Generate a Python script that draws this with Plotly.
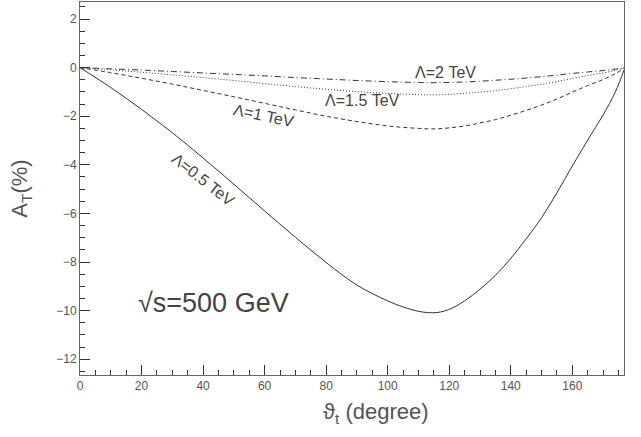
import plotly.graph_objects as go

# Scattering angle (degree)
theta = [0, 10, 20, 30, 40, 50, 60, 70, 80, 90, 100, 105, 110, 113, 116, 120, 125,
         130, 135, 140, 145, 150, 155, 160, 165, 170, 174, 176.8]

# A_T (%) for each Lambda
a_05 = [0, -0.82, -1.72, -2.68, -3.72, -4.8, -5.9, -6.98, -8.02, -8.95, -9.6, -9.85, -10.03,
        -10.08, -10.08, -9.95, -9.6, -9.12, -8.55, -7.85, -7.05, -6.18, -5.15, -4.05,
        -2.98, -1.95, -1.0, -0.1]
a_10 = [0, -0.21, -0.44, -0.68, -0.94, -1.2, -1.47, -1.74, -2.0, -2.22, -2.4, -2.46, -2.5,
        -2.52, -2.52, -2.48, -2.4, -2.28, -2.14, -1.96, -1.76, -1.54, -1.29, -1.01,
        -0.74, -0.49, -0.25, -0.03]
a_15 = [0, -0.09, -0.19, -0.3, -0.41, -0.53, -0.66, -0.78, -0.89, -0.99, -1.06, -1.09,
        -1.11, -1.12, -1.12, -1.1, -1.06, -1.01, -0.95, -0.87, -0.78, -0.69, -0.57,
        -0.45, -0.33, -0.22, -0.11, -0.01]
a_20 = [0, -0.05, -0.1, -0.16, -0.22, -0.28, -0.34, -0.41, -0.47, -0.53, -0.58, -0.6,
        -0.61, -0.62, -0.62, -0.61, -0.59, -0.56, -0.52, -0.48, -0.43, -0.37, -0.31,
        -0.24, -0.18, -0.12, -0.06, -0.01]

x_ticks = [0, 20, 40, 60, 80, 100, 120, 140, 160]
y_ticks = [2, 0, -2, -4, -6, -8, -10, -12]

LINE = "#333333"
TXT = "#555555"
FONT = "Liberation Sans"

fig = go.Figure()
styles = [
    (a_05, "solid"),
    (a_10, "4px,3px"),
    (a_15, "1px,2px"),
    (a_20, "6px,3px,1px,3px"),
]
for ys, dash in styles:
    fig.add_trace(go.Scatter(x=theta, y=ys, mode="lines", line=dict(color=LINE, width=1, dash=dash),
                             line_shape="spline", showlegend=False, hoverinfo="skip"))

labels = [
    (118.7, -0.22, "Λ=2 TeV", 0),
    (91.7, -1.36, "Λ=1.5 TeV", 0),
    (59.5, -1.98, "Λ=1 TeV", 12),
    (40, -4.6, "Λ=0.5 TeV", 38),
]
for x, y, t, ang in labels:
    fig.add_annotation(x=x, y=y, text=t, showarrow=False, textangle=ang,
                       font=dict(family=FONT, size=16, color="#444444"))

fig.add_annotation(x=43.5, y=-9.7, text="√s=500 GeV", showarrow=False,
                   font=dict(family=FONT, size=27, color="#444444"))

fig.add_annotation(xref="paper", yref="paper", x=0.544, y=-0.06, yanchor="top",
                   text="ϑ<sub>t</sub> (degree)", showarrow=False,
                   font=dict(family=FONT, size=22, color="#555555"))

axis_common = dict(showline=True, linecolor="#666666", linewidth=1, mirror=True,
                   ticks="inside", ticklen=10, tickcolor="#333333", tickwidth=1,
                   showgrid=False, zeroline=False,
                   tickfont=dict(family=FONT, size=12, color=TXT))

fig.update_xaxes(range=[0, 176.8], tickvals=x_ticks, ticktext=[str(v) for v in x_ticks],
                 minor=dict(ticks="inside", ticklen=5, dtick=5, tick0=0, tickcolor="#333333"),
                 **axis_common)
fig.update_yaxes(range=[-12.65, 2.7], tickvals=y_ticks,
                 ticktext=[("−" + str(-v)) if v < 0 else str(v) for v in y_ticks],
                 minor=dict(ticks="inside", ticklen=5, dtick=0.5, tick0=0, tickcolor="#333333"),
                 title=dict(text="A<sub>T</sub>(%)", font=dict(family=FONT, size=22, color=TXT),
                            standoff=22),
                 **axis_common)

fig.update_layout(width=641, height=437, margin=dict(l=80, r=17, t=2, b=62, autoexpand=False),
                  plot_bgcolor="white", paper_bgcolor="white")

fig.write_html("out.html", config={"displayModeBar": False},
               post_script="document.body.style.margin='0';")
